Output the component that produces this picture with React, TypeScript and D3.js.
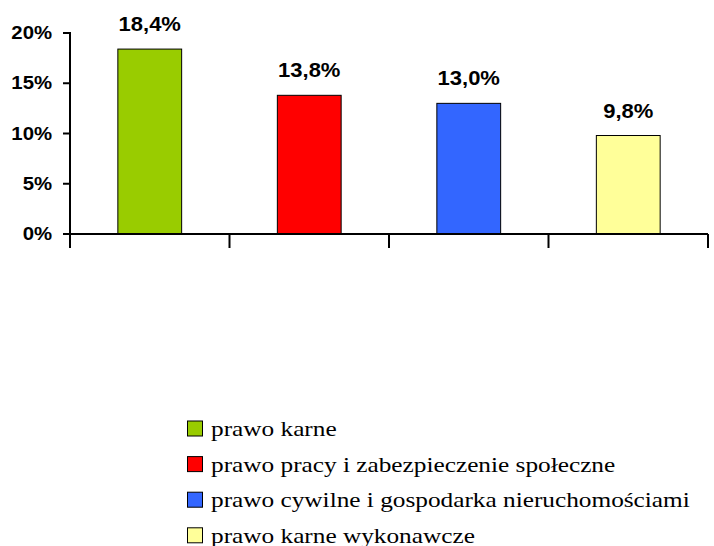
import React from 'react';
import * as d3 from 'd3';

// category names (legend) and their shares
const categories = [
  'prawo karne',
  'prawo pracy i zabezpieczenie społeczne',
  'prawo cywilne i gospodarka nieruchomościami',
  'prawo karne wykonawcze',
];
const values = [18.4, 13.8, 13.0, 9.8];
const colors = ['#99cc00', '#ff0000', '#3366ff', '#ffff99'];
const yTicks = [0, 5, 10, 15, 20];

const SANS = "'Liberation Sans', Arial, Helvetica, sans-serif";
const SERIF = "'Liberation Serif', 'Times New Roman', Times, serif";

function App() {
  const w = 714;
  const h = 546;
  const left = 70;
  const right = 708;
  const bottom = 234;
  const top = 33;

  const xScale = d3
    .scaleBand<string>()
    .domain(categories)
    .range([left, right])
    .paddingInner(0.6)
    .paddingOuter(0.3);
  const yScale = d3.scaleLinear().domain([0, 20]).range([bottom, top]);
  const step = xScale.step();
  const fmt = (v: number) => v.toFixed(1).replace('.', ',') + '%';

  return (
    <svg
      width={w}
      height={h}
      style={{ position: 'absolute', left: 0, top: 0, background: '#fff' }}
    >
      {/* bars */}
      {categories.map((c, i) => (
        <rect
          key={c}
          x={xScale(c)}
          y={yScale(values[i])}
          width={xScale.bandwidth()}
          height={bottom - yScale(values[i])}
          fill={colors[i]}
          stroke="#000"
          strokeWidth={1}
        />
      ))}
      {/* value labels */}
      {categories.map((c, i) => (
        <text
          key={'l' + c}
          transform={`translate(${(xScale(c) as number) + xScale.bandwidth() / 2},${
            yScale(values[i]) - 18
          }) scale(1.1,1)`}
          textAnchor="middle"
          style={{ fontFamily: SANS, fontWeight: 'bold', fontSize: '20px' }}
        >
          {fmt(values[i])}
        </text>
      ))}
      {/* y axis */}
      <line x1={left} x2={left} y1={top - 1} y2={bottom + 1} stroke="#000" strokeWidth={2} />
      {yTicks.map((t) => (
        <g key={'y' + t}>
          <line x1={left - 7} x2={left} y1={yScale(t)} y2={yScale(t)} stroke="#000" strokeWidth={2} />
          <text
            transform={`translate(52,${yScale(t) + 6}) scale(1.13,1)`}
            textAnchor="end"
            style={{ fontFamily: SANS, fontWeight: 'bold', fontSize: '18px' }}
          >
            {t}%
          </text>
        </g>
      ))}
      {/* x axis */}
      <line x1={left - 1} x2={right} y1={bottom} y2={bottom} stroke="#000" strokeWidth={2} />
      {d3.range(categories.length + 1).map((i) => (
        <line
          key={'x' + i}
          x1={left + i * step}
          x2={left + i * step}
          y1={bottom}
          y2={bottom + 14}
          stroke="#000"
          strokeWidth={2}
        />
      ))}
      {/* legend */}
      {categories.map((c, i) => {
        const y0 = 421 + i * 35.6;
        return (
          <g key={'lg' + c}>
            <rect x={187.5} y={y0} width={15} height={15} fill={colors[i]} stroke="#000" strokeWidth={1} />
            <text
              transform={`translate(211,${y0 + 15}) scale(1.15,1)`}
              style={{ fontFamily: SERIF, fontSize: '22px' }}
            >
              {c}
            </text>
          </g>
        );
      })}
    </svg>
  );
}

export default App;
